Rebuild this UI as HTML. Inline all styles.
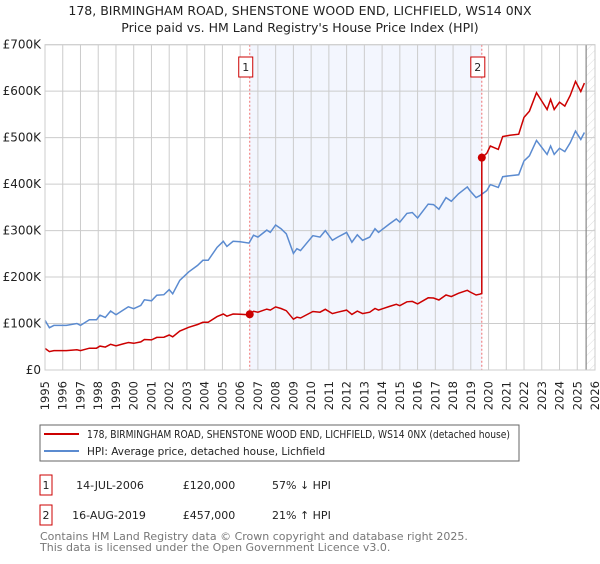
<!DOCTYPE html>
<html><head><meta charset="utf-8"><style>
body{margin:0;background:#fff;font-family:"DejaVu Sans","Liberation Sans",sans-serif;}
svg text{font-family:"DejaVu Sans","Liberation Sans",sans-serif;}
</style></head><body>
<svg id="chart" width="600" height="560" viewBox="0 0 600 560" xmlns="http://www.w3.org/2000/svg">
<defs>
<pattern id="hatch" width="6" height="6" patternUnits="userSpaceOnUse" patternTransform="rotate(45)">
<line x1="0" y1="0" x2="0" y2="6" stroke="#d4d4d4" stroke-width="0.8"/>
</pattern>
</defs>
<text x="300" y="15" text-anchor="middle" font-size="12.5" fill="#222">178, BIRMINGHAM ROAD, SHENSTONE WOOD END, LICHFIELD, WS14 0NX</text>
<text x="300" y="32" text-anchor="middle" font-size="12.5" fill="#222">Price paid vs. HM Land Registry's House Price Index (HPI)</text>
<g id="plot"></g>
<g>
<rect x="40" y="425" width="479" height="36" fill="#fff" stroke="#666" stroke-width="1"/>
<line x1="44" y1="434" x2="79" y2="434" stroke="#cc0000" stroke-width="2"/>
<text x="87" y="438" font-size="10.5" textLength="423" lengthAdjust="spacingAndGlyphs" fill="#222">178, BIRMINGHAM ROAD, SHENSTONE WOOD END, LICHFIELD, WS14 0NX (detached house)</text>
<line x1="44" y1="451" x2="79" y2="451" stroke="#5b8bd0" stroke-width="2"/>
<text x="87" y="455" font-size="10.5" fill="#222">HPI: Average price, detached house, Lichfield</text>
</g>
<g font-size="11" fill="#222">
<rect x="40" y="475" width="12" height="20" fill="#fff" stroke="#cc0000"/>
<text x="46" y="489" text-anchor="middle">1</text>
<text x="110" y="489" text-anchor="middle">14-JUL-2006</text>
<text x="209" y="489" text-anchor="middle">£120,000</text>
<text x="272" y="489">57% ↓ HPI</text>
<rect x="40" y="505" width="12" height="20" fill="#fff" stroke="#cc0000"/>
<text x="46" y="519" text-anchor="middle">2</text>
<text x="109" y="519" text-anchor="middle">16-AUG-2019</text>
<text x="209" y="519" text-anchor="middle">£457,000</text>
<text x="272" y="519">21% ↑ HPI</text>
</g>
<text x="40" y="540" font-size="11" fill="#777">Contains HM Land Registry data © Crown copyright and database right 2025.</text>
<text x="40" y="551" font-size="11" fill="#777">This data is licensed under the Open Government Licence v3.0.</text>
</svg>
<script>
const hpiYears=[1995.0,1995.25,1995.5,1996.2,1996.8,1997.0,1997.5,1997.9,1998.1,1998.4,1998.7,1999.0,1999.4,1999.7,2000.0,2000.4,2000.6,2001.0,2001.3,2001.7,2002.0,2002.2,2002.6,2003.1,2003.6,2003.9,2004.2,2004.7,2005.05,2005.25,2005.6,2006.0,2006.5,2006.75,2007.0,2007.5,2007.7,2008.0,2008.3,2008.6,2009.0,2009.2,2009.4,2010.1,2010.5,2010.8,2011.2,2011.5,2012.0,2012.3,2012.6,2012.9,2013.3,2013.6,2013.8,2014.4,2014.8,2015.0,2015.4,2015.7,2016.0,2016.6,2016.9,2017.2,2017.6,2017.9,2018.3,2018.8,2018.95,2019.3,2019.5,2019.9,2020.1,2020.55,2020.8,2021.2,2021.7,2022.0,2022.3,2022.7,2023.0,2023.3,2023.5,2023.7,2024.0,2024.3,2024.6,2024.9,2025.2,2025.4];
const hpiValues=[107,91,96,96,100,96,108,108,118,113,127,119,129,136,132,139,151,149,161,162,173,164,193,211,225,236,236,264,277,266,277,276,273,290,286,301,296,312,304,293,251,261,257,289,286,300,279,286,296,275,291,279,286,304,296,314,325,318,337,339,327,357,356,346,371,363,379,394,386,371,375,386,399,393,416,418,420,450,461,494,479,464,482,464,477,470,489,514,496,511];
const saleYears=[2006.54,2019.62];
const salePrices=[120,457];
const saleLabels=["1","2"];
const yTicks=[0,100,200,300,400,500,600,700];
const yTickLabels=["£0","£100K","£200K","£300K","£400K","£500K","£600K","£700K"];
const xTicks=[1995,1996,1997,1998,1999,2000,2001,2002,2003,2004,2005,2006,2007,2008,2009,2010,2011,2012,2013,2014,2015,2016,2017,2018,2019,2020,2021,2022,2023,2024,2025,2026];

const NS="http://www.w3.org/2000/svg";
const X0=45,X1=595,Y0=370,Y1=44.7,xMin=1995,xMax=2026,yMax=700,dataEnd=2025.5;
const xs=v=>X0+(v-xMin)/(xMax-xMin)*(X1-X0);
const ys=v=>Y0-v/yMax*(Y0-Y1);
const g=document.getElementById('plot');
function mk(tag,attrs){const e=document.createElementNS(NS,tag);for(const k in attrs)e.setAttribute(k,attrs[k]);g.appendChild(e);return e;}
function hpiAt(t){for(let i=0;i<hpiYears.length-1;i++){if(t>=hpiYears[i]&&t<=hpiYears[i+1]){const f=(t-hpiYears[i])/(hpiYears[i+1]-hpiYears[i]);return hpiValues[i]+f*(hpiValues[i+1]-hpiValues[i]);}}return hpiValues[hpiValues.length-1];}

let e=mk('rect',{x:xs(saleYears[0]),y:Y1,width:xs(saleYears[1])-xs(saleYears[0]),height:Y0-Y1,fill:'#f3f6fe'});


e=mk('rect',{x:xs(dataEnd),y:Y1,width:X1-xs(dataEnd),height:Y0-Y1,fill:'url(#hatch)'});


yTicks.forEach((t,i)=>{
 let l=mk('line',{x1:X0,x2:X1,y1:ys(t),y2:ys(t),stroke:'#ccc','stroke-width':1});
 
 
 let tx=mk('text',{x:X0-4,y:ys(t)+4,'text-anchor':'end','font-size':12,fill:'#222'});
 tx.textContent=yTickLabels[i];
 
 
});
xTicks.forEach(t=>{
 let l=mk('line',{x1:xs(t),x2:xs(t),y1:Y1,y2:Y0,stroke:'#ccc','stroke-width':1});
 
 
 let tx=mk('text',{x:0,y:0,'text-anchor':'end','font-size':11.5,fill:'#222',transform:`translate(${xs(t)+4},381) rotate(-90)`});
 tx.textContent=t;
 
 
});
e=mk('line',{x1:xs(dataEnd),x2:xs(dataEnd),y1:Y1,y2:Y0,stroke:'#888','stroke-width':1.2});


saleYears.forEach((s,i)=>{
 let l=mk('line',{x1:xs(s),x2:xs(s),y1:Y1,y2:Y0,stroke:'#f07070','stroke-width':1,'stroke-dasharray':'2,2'});
 
 
});
let hp=hpiYears.map((y,i)=>`${i?'L':'M'}${xs(y).toFixed(1)},${ys(hpiValues[i]).toFixed(1)}`).join('');
e=mk('path',{d:hp,fill:'none',stroke:'#5b8bd0','stroke-width':1.5});


const r1=salePrices[0]/hpiAt(saleYears[0]), r2=salePrices[1]/hpiAt(saleYears[1]);
let pts=[];
hpiYears.forEach((y,i)=>{if(y<saleYears[1])pts.push([y,hpiValues[i]*r1]);});
pts.push([saleYears[1],hpiAt(saleYears[1])*r1]);
pts.push([saleYears[1],salePrices[1]]);
hpiYears.forEach((y,i)=>{if(y>saleYears[1])pts.push([y,hpiValues[i]*r2]);});
let pp=pts.map((p,i)=>`${i?'L':'M'}${xs(p[0]).toFixed(1)},${ys(p[1]).toFixed(1)}`).join('');
e=mk('path',{d:pp,fill:'none',stroke:'#cc0000','stroke-width':1.5});


saleYears.forEach((s,i)=>{
 let c=mk('circle',{cx:xs(s),cy:ys(salePrices[i]),r:4,fill:'#cc0000'});
 
 
 let b=mk('rect',{x:xs(s)-11,y:57,width:14,height:20,fill:'#fff',stroke:'#cc0000'});
 
 
 let t=mk('text',{x:xs(s)-4,y:71,'text-anchor':'middle','font-size':11,fill:'#222'});
 t.textContent=saleLabels[i];
 
 
});
e=mk('rect',{x:X0,y:Y1,width:X1-X0,height:Y0-Y1,fill:'none',stroke:'#ccc'});


</script>
</body></html>
